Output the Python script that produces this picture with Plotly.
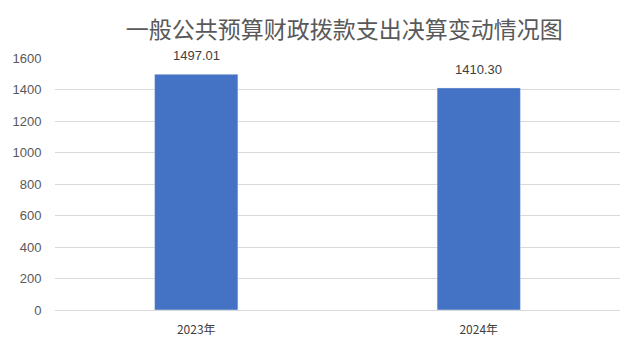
import plotly.graph_objects as go

categories = ["2023年", "2024年"]
values = [1497.01, 1410.30]
labels = ["1497.01", "1410.30"]
title_text = "一般公共预算财政拨款支出决算变动情况图"
y_ticks = [0, 200, 400, 600, 800, 1000, 1200, 1400, 1600]

fig = go.Figure(go.Bar(
    x=categories, y=values,
    marker_color="#4472C4", width=0.295,
))

for c, v, t in zip(categories, values, labels):
    fig.add_annotation(x=c, y=v, text=t, showarrow=False, yanchor="bottom", yshift=9,
                       font=dict(family="Liberation Sans, Arial", size=13, color="#404040"))

fig.update_layout(
    width=640, height=349,
    margin=dict(l=48, r=20, t=58, b=39),
    paper_bgcolor="white", plot_bgcolor="white",
    title=dict(text=title_text, x=0.538, xanchor="center", y=0.915, yanchor="middle",
               font=dict(family="Noto Sans CJK SC", size=23, color="#595959")),
    showlegend=False,
    font=dict(family="Liberation Sans, Arial", size=12, color="#595959"),
)
fig.update_yaxes(range=[0, 1600], tickvals=y_ticks, showgrid=True, gridcolor="#D9D9D9",
                 gridwidth=1, zeroline=False, showline=False, ticks="outside",
                 ticklen=10, tickcolor="rgba(0,0,0,0)",
                 tickfont=dict(family="Liberation Sans, Arial", size=13, color="#595959"))
fig.update_xaxes(showline=True, linecolor="#D9D9D9", linewidth=1, ticks="outside",
                 ticklen=9, tickcolor="rgba(0,0,0,0)",
                 tickfont=dict(family="Noto Sans CJK SC", size=12, color="#404040"))

fig.write_html("out.html")
